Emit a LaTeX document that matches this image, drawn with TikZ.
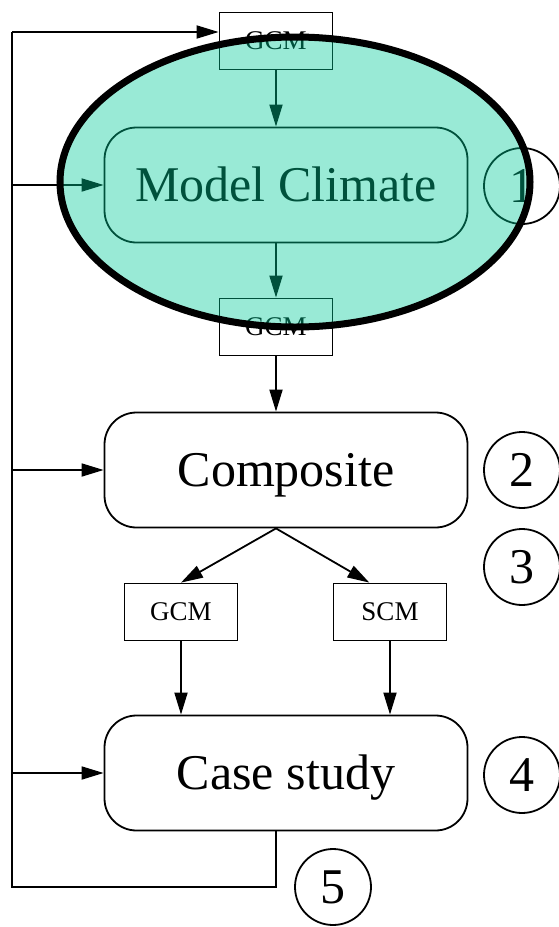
\documentclass[tikz,border=0pt]{standalone}
\usepackage{fontspec}
\setmainfont{Liberation Serif}
\usetikzlibrary{arrows.meta,calc}
\definecolor{hilite}{RGB}{0,203,152}
\begin{document}
\begin{tikzpicture}[x=1pt,y=-1pt,line width=1.8pt]
\tikzstyle{every node}=[font=\fontsize{50}{60}\selectfont]
\tikzstyle{stage}=[draw, rounded corners=32pt, minimum width=363pt, minimum height=115pt, inner sep=0pt, text height=33pt, text depth=0pt]
\tikzstyle{model}=[draw, minimum width=113pt, minimum height=57pt, inner sep=0pt, font=\fontsize{27}{30}\selectfont]
\tikzstyle{num}=[draw, circle, minimum size=76pt, inner sep=0pt]
\tikzstyle{arr}=[-{Triangle[length=22pt,width=13pt]}]

\useasboundingbox (0,0) rectangle (559,927);

\node[model] (gt) at (276, 41) {GCM};
\node[stage] (mc) at (286,185) {Model Climate};
\node[model] (gb) at (276,327) {GCM};
\node[stage] (co) at (286,470) {Composite};
\node[model] (gl) at (181,612) {GCM};
\node[model] (sc) at (390,612) {SCM};
\node[stage] (cs) at (286,773) {Case study};

\node[num] (n1) at (522,186) {1};
\node[num] (n2) at (522,470) {2};
\node[num] (n3) at (522,567) {3};
\node[num] (n4) at (522,775) {4};
\node[num] (n5) at (333,887) {5};

\coordinate (tl) at (12, 32);
\coordinate (bl) at (12,887);

\draw[arr] (gt.south) -- (gt.south |- mc.north);
\draw[arr] (gb.north |- mc.south) -- (gb.north);
\draw[arr] (gb.south) -- (gb.south |- co.north);
\draw[arr] (gb.south |- co.south) -- (gl.north);
\draw[arr] (gb.south |- co.south) -- ($(sc.north west)!0.32!(sc.north east)$);
\draw[arr] (gl.south) -- (gl.south |- cs.north);
\draw[arr] (sc.south) -- (sc.south |- cs.north);

% feedback loop
\draw (gb.south |- cs.south) |- (bl) -- (tl);
\draw[arr] (tl) -- (tl -| gt.west);
\draw[arr] (tl |- mc) -- (mc.west);
\draw[arr] (tl |- co) -- (co.west);
\draw[arr] (tl |- cs) -- (cs.west);

% highlight
\draw[line width=7pt, fill=hilite, fill opacity=0.4] (295,182) ellipse [x radius=235pt, y radius=145pt];
\end{tikzpicture}
\end{document}
